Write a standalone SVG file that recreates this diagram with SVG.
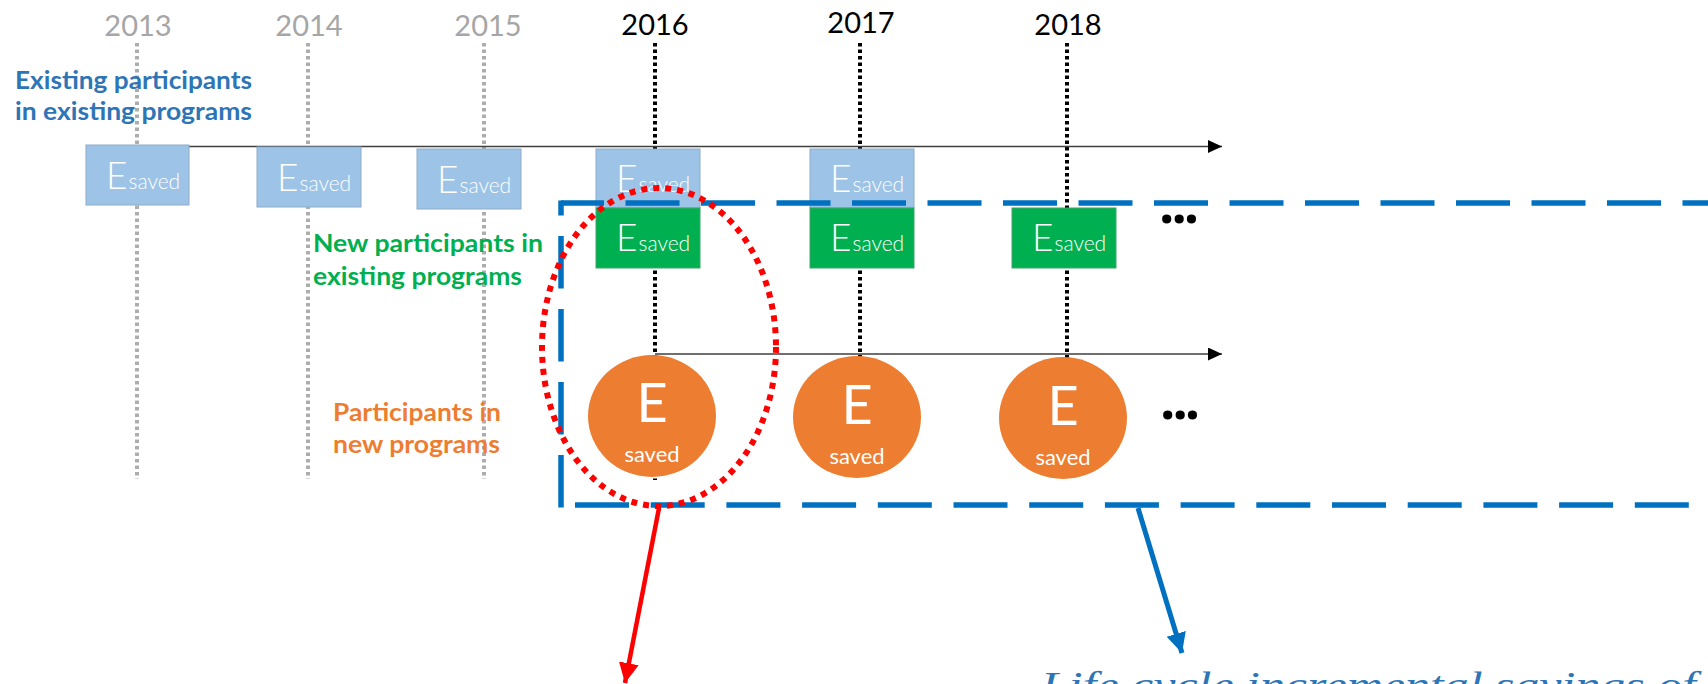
<svg xmlns="http://www.w3.org/2000/svg" width="1708" height="684" viewBox="0 0 1708 684">
<style>
.yr{font-family:Lato,"Liberation Sans",sans-serif;font-size:29px;text-anchor:middle}
.gy{fill:#A6A6A6}
.bk{fill:#000}
.gdot{stroke:#ADADAD;stroke-width:4;stroke-dasharray:3.5 3;fill:none}
.kdot{stroke:#000;stroke-width:4;stroke-dasharray:3.5 3;fill:none}
.lbl{font-family:Lato,"Liberation Sans",sans-serif;font-weight:bold;font-size:25px}
.bbox{fill:#9DC3E6;stroke:#8EABC9;stroke-width:1}
.gbox{fill:#00B050;stroke:#3FA46A;stroke-width:1}
.es{font-family:Lato,"Liberation Sans",sans-serif;font-weight:300;fill:#fff}
.eb{font-size:37px}
.sb{font-size:21px}
.circ{fill:#ED7D31}
.ce{font-family:Lato,"Liberation Sans",sans-serif;fill:#fff;text-anchor:middle}
.dots{font-family:"Open Sans",sans-serif;font-weight:bold;font-size:54px;fill:#000;letter-spacing:-3px}
.blu{stroke:#0070C0;stroke-width:5.5;fill:none}
</style>
<defs>
<marker id="ah" markerUnits="userSpaceOnUse" markerWidth="16" markerHeight="14" refX="14" refY="6.5" orient="auto"><path d="M0,0 L14,6.5 L0,13 Z" fill="#000"/></marker>
<marker id="ahr" markerUnits="userSpaceOnUse" markerWidth="22" markerHeight="22" refX="20" refY="10" orient="auto"><path d="M0,0 L20,10 L0,20 Z" fill="#FF0000"/></marker>
<marker id="ahb" markerUnits="userSpaceOnUse" markerWidth="22" markerHeight="22" refX="20" refY="10" orient="auto"><path d="M0,0 L20,10 L0,20 Z" fill="#0070C0"/></marker>
</defs>

<g id="years">
<text class="yr gy" x="138" y="36">2013</text>
<text class="yr gy" x="309" y="36">2014</text>
<text class="yr gy" x="488" y="36">2015</text>
<text class="yr bk" x="655" y="35">2016</text>
<text class="yr bk" x="861" y="33">2017</text>
<text class="yr bk" x="1068" y="35">2018</text>
</g>

<g id="timelines">
<line class="gdot" x1="137" y1="43" x2="137" y2="479"/>
<line class="gdot" x1="308" y1="43" x2="308" y2="479"/>
<line class="gdot" x1="484" y1="43" x2="484" y2="479"/>
<line class="kdot" x1="655" y1="43" x2="655" y2="480"/>
<line class="kdot" x1="860" y1="43" x2="860" y2="400"/>
<line class="kdot" x1="1067" y1="43" x2="1067" y2="400"/>
</g>

<g id="connectors">
<line x1="137" y1="146.5" x2="1222" y2="146.5" stroke="#404040" stroke-width="1.5" marker-end="url(#ah)"/>
<line x1="655" y1="354" x2="1222" y2="354" stroke="#6F6F6F" stroke-width="2" marker-end="url(#ah)"/>
</g>

<g id="labels">
<text class="lbl" fill="#2E75B6" x="15" y="89" textLength="237" lengthAdjust="spacingAndGlyphs">Existing participants</text>
<text class="lbl" fill="#2E75B6" x="15" y="120" textLength="237" lengthAdjust="spacingAndGlyphs">in existing programs</text>
<text class="lbl" fill="#00B050" x="313" y="252" textLength="230" lengthAdjust="spacingAndGlyphs">New participants in</text>
<text class="lbl" fill="#00B050" x="313" y="285" textLength="209" lengthAdjust="spacingAndGlyphs">existing programs</text>
<text class="lbl" fill="#ED7D31" x="333" y="421" textLength="168" lengthAdjust="spacingAndGlyphs">Participants in</text>
<text class="lbl" fill="#ED7D31" x="333" y="453" textLength="167" lengthAdjust="spacingAndGlyphs">new programs</text>
</g>

<g id="existing-2013"><rect class="bbox" x="86" y="145" width="103" height="60"/><text class="es" x="106" y="189"><tspan class="eb">E</tspan><tspan class="sb" dx="1">saved</tspan></text></g>
<g id="existing-2014"><rect class="bbox" x="257" y="147" width="104" height="60"/><text class="es" x="277" y="191"><tspan class="eb">E</tspan><tspan class="sb" dx="1">saved</tspan></text></g>
<g id="existing-2015"><rect class="bbox" x="417" y="149" width="104" height="60"/><text class="es" x="437" y="193"><tspan class="eb">E</tspan><tspan class="sb" dx="1">saved</tspan></text></g>
<g id="existing-2016"><rect class="bbox" x="596" y="149" width="104" height="59"/><text class="es" x="616" y="192"><tspan class="eb">E</tspan><tspan class="sb" dx="1">saved</tspan></text></g>
<g id="existing-2017"><rect class="bbox" x="810" y="149" width="104" height="59"/><text class="es" x="830" y="192"><tspan class="eb">E</tspan><tspan class="sb" dx="1">saved</tspan></text></g>

<g id="scope-box">
<line class="blu" x1="561" y1="507.5" x2="561" y2="200.5" stroke-dasharray="52.5 20.5"/>
<line class="blu" x1="561" y1="203" x2="1760" y2="203" stroke-dasharray="54 21.5" stroke-dashoffset="11"/>
<line class="blu" x1="575" y1="505" x2="1760" y2="505" stroke-dasharray="54 21.7"/>
</g>

<g id="new-2016"><rect class="gbox" x="596" y="208" width="104" height="60"/><text class="es" x="616" y="251"><tspan class="eb">E</tspan><tspan class="sb" dx="1">saved</tspan></text></g>
<g id="new-2017"><rect class="gbox" x="810" y="208" width="104" height="60"/><text class="es" x="830" y="251"><tspan class="eb">E</tspan><tspan class="sb" dx="1">saved</tspan></text></g>
<g id="new-2018"><rect class="gbox" x="1012" y="208" width="104" height="60"/><text class="es" x="1032" y="251"><tspan class="eb">E</tspan><tspan class="sb" dx="1">saved</tspan></text></g>
<g id="more-1"><text class="dots" x="1159" y="223">...</text></g>

<g id="program-2016"><ellipse class="circ" cx="652" cy="416" rx="64" ry="61"/><text class="ce" x="652" y="422" font-size="54">E</text><text class="ce" x="652" y="462" font-size="22">saved</text></g>
<g id="program-2017"><ellipse class="circ" cx="857" cy="417" rx="64" ry="61"/><text class="ce" x="857" y="424" font-size="54">E</text><text class="ce" x="857" y="464" font-size="22">saved</text></g>
<g id="program-2018"><ellipse class="circ" cx="1063" cy="418" rx="64" ry="61"/><text class="ce" x="1063" y="425" font-size="54">E</text><text class="ce" x="1063" y="465" font-size="22">saved</text></g>
<g id="more-2"><text class="dots" x="1160" y="419">...</text></g>

<g id="focus-2016">
<ellipse cx="659" cy="347" rx="117" ry="159" fill="none" stroke="#FF0000" stroke-width="6" stroke-dasharray="6 6"/>
</g>

<g id="callouts">
<line x1="659" y1="508" x2="625" y2="683" stroke="#FF0000" stroke-width="4.5" marker-end="url(#ahr)"/>
<line x1="1138" y1="508" x2="1182" y2="653" stroke="#0070C0" stroke-width="5" marker-end="url(#ahb)"/>
</g>

<g id="caption">
<text x="1041" y="698" font-family="'Liberation Serif',serif" font-style="italic" font-size="37" fill="#2E75B6" textLength="655" lengthAdjust="spacingAndGlyphs">Life cycle incremental savings of</text>
</g>
</svg>
